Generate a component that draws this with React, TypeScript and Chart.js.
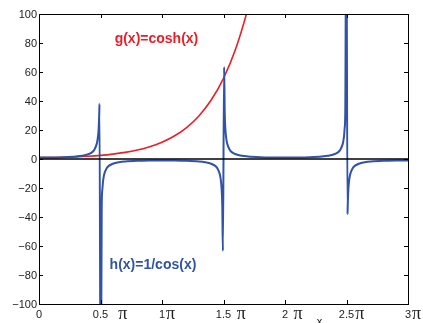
import { useEffect, useRef } from 'react';
import { Chart, registerables } from 'chart.js';
Chart.register(...registerables);

// x values are in units of π
const hX = [0, 0.1, 0.2, 0.3, 0.35, 0.4, 0.43, 0.45, 0.47, 0.475, 0.48, 0.485, 0.49, 0.4916, 0.5017, 0.51, 0.515, 0.52, 0.525, 0.53,
  0.55, 0.57, 0.6, 0.65, 0.7, 0.8, 0.9, 1.0, 1.1, 1.2, 1.3, 1.35, 1.4, 1.43, 1.45, 1.47, 1.475, 1.48, 1.485, 1.49,
  1.495, 1.505, 1.51, 1.515, 1.52, 1.525, 1.53, 1.55, 1.57, 1.6, 1.65, 1.7, 1.8, 1.9, 2.0, 2.1, 2.2, 2.3, 2.35, 2.4,
  2.43, 2.45, 2.47, 2.475, 2.48, 2.485, 2.49, 2.4983, 2.5084, 2.51, 2.515, 2.52, 2.525, 2.53, 2.55, 2.57, 2.6, 2.65, 2.7, 2.8,
  2.9, 3.0];
const hY = [1, 1.05, 1.24, 1.7, 2.2, 3.24, 4.59, 6.39, 10.6, 12.75, 15.9, 21.2, 31.9, 38.1, -190, -31.9, -21.2, -15.9, -12.75, -10.6,
  -6.39, -4.59, -3.24, -2.2, -1.7, -1.24, -1.05, -1, -1.05, -1.24, -1.7, -2.2, -3.24, -4.59, -6.39, -10.6, -12.75, -15.9, -21.2, -31.9,
  -63.4, 63.4, 31.9, 21.2, 15.9, 12.75, 10.6, 6.39, 4.59, 3.24, 2.2, 1.7, 1.24, 1.05, 1, 1.05, 1.24, 1.7, 2.2, 3.24,
  4.59, 6.39, 10.6, 12.75, 15.9, 21.2, 31.9, 190, -38.1, -31.9, -21.2, -15.9, -12.75, -10.6, -6.39, -4.59, -3.24, -2.2, -1.7, -1.24,
  -1.05, -1];

const gX = [0, 0.1, 0.2, 0.3, 0.4, 0.5, 0.6, 0.7, 0.8, 0.9, 1.0, 1.1, 1.2, 1.3, 1.4, 1.5, 1.6, 1.7, 1.75];
const gY = [1, 1.05, 1.2, 1.48, 1.9, 2.51, 3.37, 4.56, 6.21, 8.48, 11.59, 15.86, 21.7, 29.7, 40.65, 55.66, 76.2, 104.3, 122.1];

const zeroX = [0, 3];
const zeroY = [0, 0];

const xTickValues = [0, 0.5, 1, 1.5, 2, 2.5, 3];
const xTickNums = ['0', '0.5', '1', '1.5', '2', '2.5', '3'];
const xTickSuffix = ['', '  π', 'π', ' π', ' π', 'π', 'π'];
const yTickValues = [-100, -80, -60, -40, -20, 0, 20, 40, 60, 80, 100];
const yTickLabels = ['−100', '−80', '−60', '−40', '−20', '0', '20', '40', '60', '80', '100'];

const gLabel = 'g(x)=cosh(x)';
const hLabel = 'h(x)=1/cos(x)';
const xAxisLabel = 'x';

const RED = '#ee1d25';
const BLUE = '#3052a8';

const pts = (xs: number[], ys: number[]) => xs.map((x, i) => ({ x, y: ys[i] }));

const framePlugin = {
  id: 'frame',
  afterDraw(chart: any) {
    const { ctx, chartArea: a, scales } = chart;
    const xs = scales.x, ys = scales.y;
    ctx.save();
    ctx.strokeStyle = '#000';
    ctx.lineWidth = 1;
    ctx.strokeRect(a.left + 0.5, a.top + 0.5, a.right - a.left, a.bottom - a.top);
    ctx.beginPath();
    xTickValues.forEach((v) => {
      const px = Math.round(xs.getPixelForValue(v)) + 0.5;
      ctx.moveTo(px, a.bottom); ctx.lineTo(px, a.bottom - 4);
      ctx.moveTo(px, a.top); ctx.lineTo(px, a.top + 4);
    });
    yTickValues.forEach((v) => {
      const py = Math.round(ys.getPixelForValue(v)) + 0.5;
      ctx.moveTo(a.left, py); ctx.lineTo(a.left + 4, py);
      ctx.moveTo(a.right, py); ctx.lineTo(a.right - 4, py);
    });
    ctx.stroke();

    ctx.fillStyle = '#222';
    ctx.font = '11px "Liberation Sans", Arial, sans-serif';
    ctx.textAlign = 'right';
    ctx.textBaseline = 'middle';
    yTickValues.forEach((v, i) => {
      ctx.fillText(yTickLabels[i], a.left - 2, ys.getPixelForValue(v) + 0.5);
    });

    xTickValues.forEach((v, i) => {
      const px = xs.getPixelForValue(v);
      ctx.font = '11px "Liberation Sans", Arial, sans-serif';
      ctx.textAlign = 'center';
      ctx.textBaseline = 'alphabetic';
      ctx.fillText(xTickNums[i], px, a.bottom + 14);
      const w = ctx.measureText(xTickNums[i]).width;
      if (xTickSuffix[i]) {
        ctx.font = '18px "Liberation Serif", "DejaVu Serif", serif';
        ctx.textAlign = 'left';
        ctx.fillText(xTickSuffix[i], px + w / 2 + 1, a.bottom + 15);
      }
    });

    ctx.font = '11px "Liberation Sans", Arial, sans-serif';
    ctx.textAlign = 'center';
    ctx.fillText(xAxisLabel, xs.getPixelForValue(2.28), a.bottom + 21);

    ctx.font = 'bold 14px "Liberation Sans", Arial, sans-serif';
    ctx.textAlign = 'left';
    ctx.fillStyle = RED;
    ctx.fillText(gLabel, xs.getPixelForValue(0.615), ys.getPixelForValue(80.3));
    ctx.fillStyle = BLUE;
    ctx.fillText(hLabel, xs.getPixelForValue(0.574), ys.getPixelForValue(-76.2));
    ctx.restore();
  },
};

export default function App() {
  const ref = useRef<HTMLCanvasElement>(null);
  useEffect(() => {
    const chart = new Chart(ref.current!, {
      type: 'line',
      data: {
        datasets: [
          { data: pts(zeroX, zeroY), borderColor: '#000', borderWidth: 1.3, pointRadius: 0 },
          { data: pts(hX, hY), borderColor: BLUE, borderWidth: 2, pointRadius: 0, cubicInterpolationMode: 'monotone' },
          { data: pts(gX, gY), borderColor: RED, borderWidth: 1.6, pointRadius: 0, cubicInterpolationMode: 'monotone' },
        ],
      },
      options: {
        animation: false,
        responsive: true,
        maintainAspectRatio: false,
        parsing: false as any,
        layout: { padding: { left: 39, right: 15, top: 14, bottom: 19 } },
        scales: {
          x: { type: 'linear', min: 0, max: 3, display: false },
          y: { type: 'linear', min: -100, max: 100, display: false },
        },
        plugins: { legend: { display: false }, tooltip: { enabled: false } },
      },
      plugins: [framePlugin],
    });
    return () => chart.destroy();
  }, []);
  return (
    <div style={{ position: 'fixed', left: 0, top: 0, width: 423, height: 323, background: '#fff' }}>
      <canvas ref={ref} />
    </div>
  );
}
